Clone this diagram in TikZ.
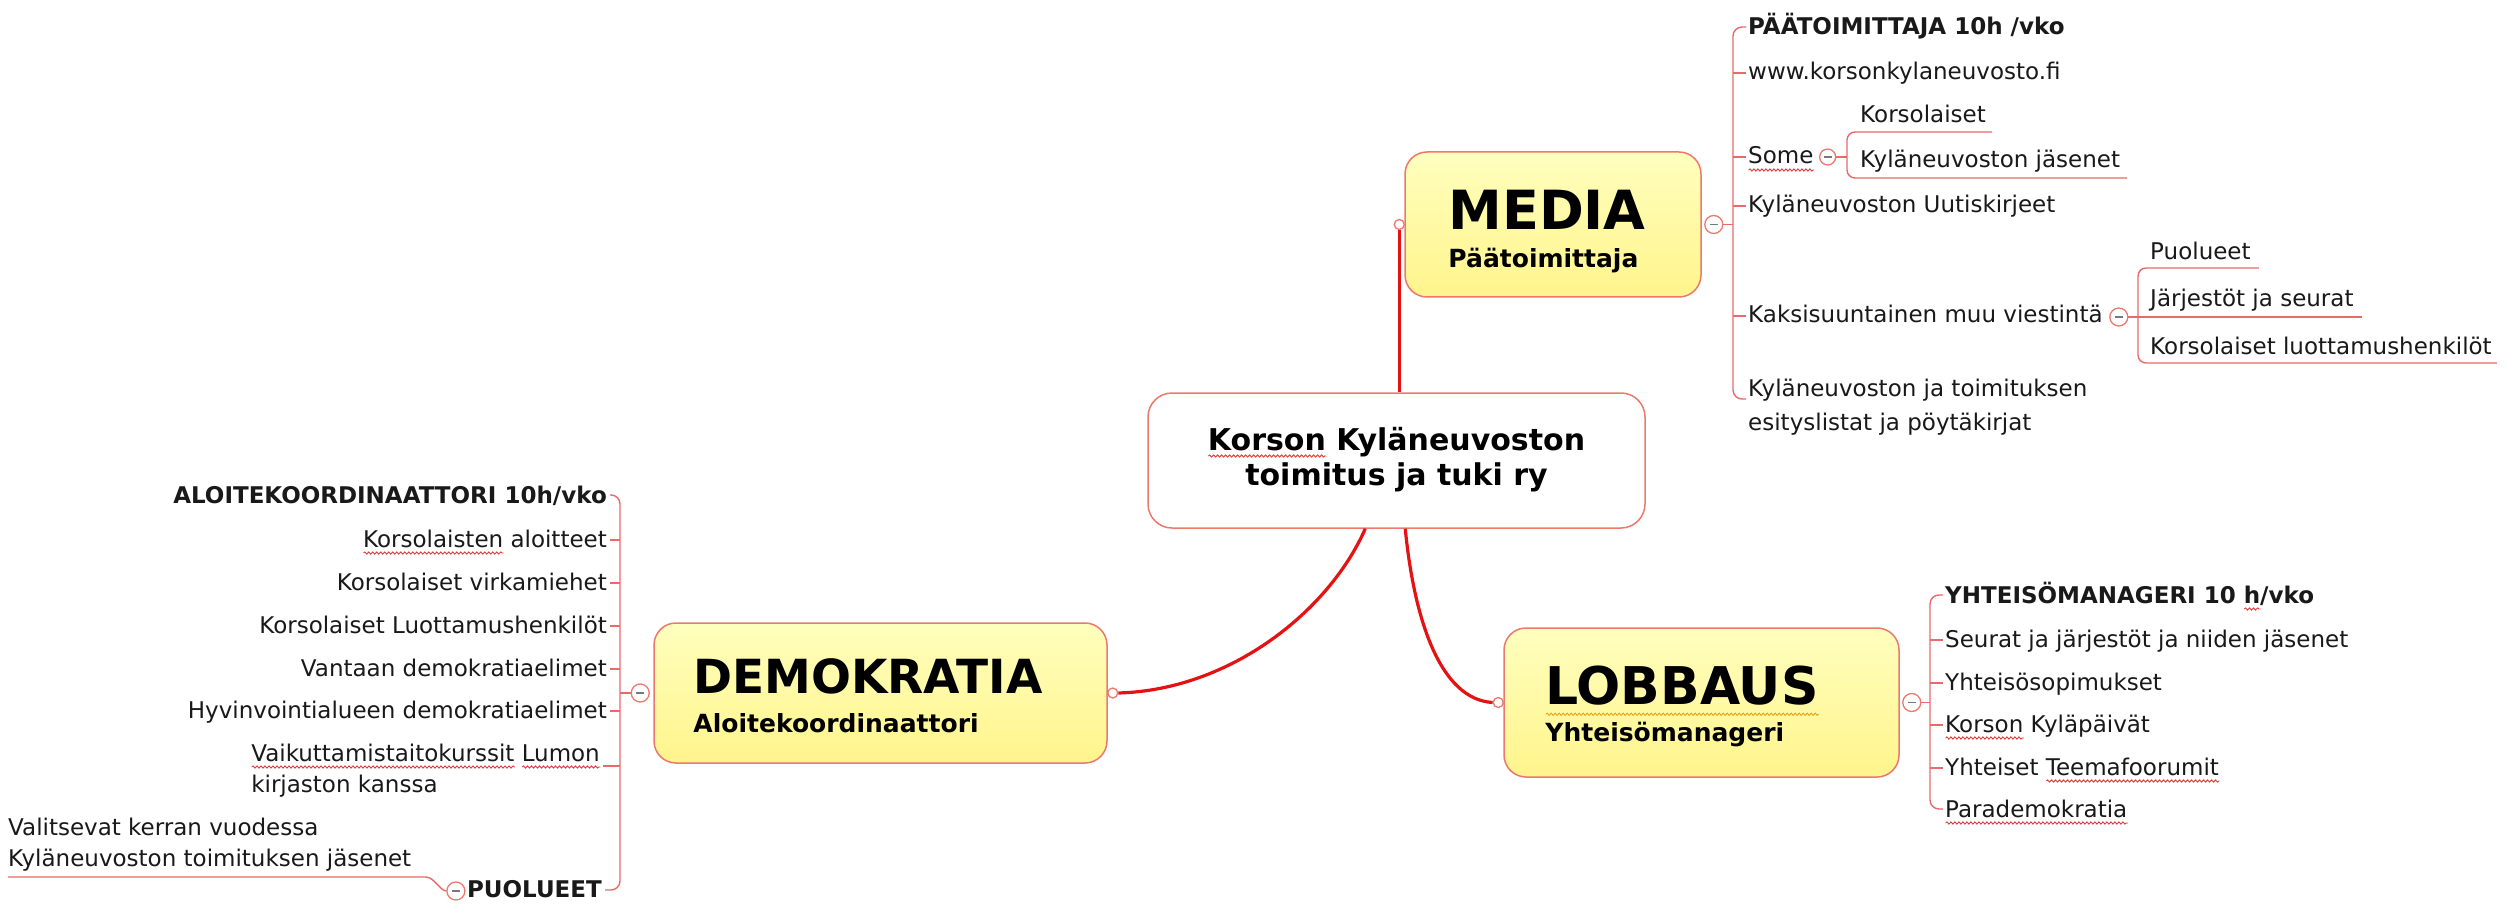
\documentclass[tikz,border=0pt]{standalone}
\usepackage{fontspec}
\setmainfont{DejaVu Sans}
\usetikzlibrary{calc,decorations.pathmorphing}
\definecolor{mainred}{RGB}{228,18,18}
\definecolor{thinred}{RGB}{236,105,105}
\definecolor{boxborder}{RGB}{236,120,110}
\definecolor{yelltop}{RGB}{255,255,190}
\definecolor{yellbot}{RGB}{255,244,140}
\definecolor{spellred}{RGB}{225,60,60}
\definecolor{grammar}{RGB}{230,165,30}
\definecolor{txt}{RGB}{25,25,25}
\definecolor{minusgray}{RGB}{120,120,120}
\newdimen\wavew
\newcommand{\wavyline}[3]{\leavevmode\setbox0\hbox{#3}\wavew=\wd0\relax
  \rlap{\smash{\tikz[baseline=0pt]\draw[#1, sharp corners, line width=0.9pt, decorate,
     decoration={snake, amplitude=1.1pt, segment length=4pt}] (0pt,-#2) -- (\wavew,-#2);}}\box0\relax}
\newcommand{\spl}[1]{\wavyline{spellred}{6pt}{#1}}
\newcommand{\grm}[1]{\wavyline{grammar}{10pt}{#1}}
\begin{document}
\begin{tikzpicture}[x=1pt,y=-1pt,
  every node/.style={inner sep=0pt, text=txt},
  item/.style={font=\fontsize{23}{28}\selectfont},
  bitem/.style={font=\bfseries\fontsize{23}{28}\selectfont},
  ybox/.style={draw=boxborder, line width=1.5pt, rounded corners=22pt, top color=yelltop, bottom color=yellbot},
  centerbox/.style={draw=boxborder, line width=1.5pt, rounded corners=24pt, fill=white, font=\bfseries\fontsize{30}{35}\selectfont, text=black},
  title/.style={font=\bfseries\fontsize{54}{60}\selectfont, text=black},
  subtitle/.style={font=\bfseries\fontsize{25}{30}\selectfont, text=black},
  attach/.style={circle, draw=boxborder, fill=white, line width=1.3pt, minimum size=10pt},
  collapse/.style={circle, draw=boxborder, fill=white, line width=1.3pt, minimum size=18pt},
  mainline/.style={draw=mainred, line width=3.2pt},
  thinline/.style={draw=thinred, line width=1.4pt},
  minusline/.style={draw=minusgray, line width=1.3pt}
]
\fill[white] (0,0) rectangle (2509,909);
\useasboundingbox (0,0) rectangle (2509,909);

% ---------- main boxes ----------
\node[centerbox, minimum width=497pt, minimum height=135pt] (center) at (1396.5,460.5)
  {\begin{tabular}{@{}c@{}}\spl{Korson} Kyläneuvoston\\toimitus ja tuki ry\end{tabular}};

\node[ybox, minimum width=296pt, minimum height=145pt] (media) at (1553,224.5) {};
\node[title, anchor=base west] (mediaT) at ($(media.north west)+(44,78)$) {MEDIA};
\node[subtitle, anchor=base west] (mediaS) at ($(media.north west)+(44,116)$) {Päätoimittaja};

\node[ybox, minimum width=453pt, minimum height=140pt] (dem) at (880.5,693) {};
\node[title, font=\bfseries\fontsize{47}{52}\selectfont, anchor=base west] (demT) at ($(dem.north west)+(40,71)$) {DEMOKRATIA};
\node[subtitle, anchor=base west] (demS) at ($(dem.north west)+(40,110)$) {Aloitekoordinaattori};

\node[ybox, minimum width=395pt, minimum height=149pt] (lob) at (1701.5,702.5) {};
\node[title, font=\bfseries\fontsize{52}{58}\selectfont, anchor=base west] (lobT) at ($(lob.north west)+(42,77)$) {\grm{LOBBAUS}};
\node[subtitle, anchor=base west] (lobS) at ($(lob.north west)+(42,114)$) {Yhteisömanageri};

% ---------- MEDIA list ----------
\node[bitem, anchor=base west] (m1) at (1748,35) {PÄÄTOIMITTAJA 10h /vko};
\node[item, anchor=base west] (m2) at (1748,80) {www.korsonkylaneuvosto.fi};
\node[item, anchor=base west] (m3) at (1748,164) {\spl{Some}};
\node[item, anchor=base west] (m3a) at (1860,123) {Korsolaiset};
\node[item, anchor=base west] (m3b) at (1860,168) {Kyläneuvoston jäsenet};
\node[item, anchor=base west] (m4) at (1748,213) {Kyläneuvoston Uutiskirjeet};
\node[item, anchor=base west] (m5) at (1748,323) {Kaksisuuntainen muu viestintä};
\node[item, anchor=base west] (m5a) at (2150,260) {Puolueet};
\node[item, anchor=base west] (m5b) at (2150,307) {Järjestöt ja seurat};
\node[item, anchor=base west] (m5c) at (2150,355) {Korsolaiset luottamushenkilöt};
\node[item, font=\fontsize{23}{34}\selectfont, anchor=base west] (m6) at (1748,396)
  {\begin{tabular}[t]{@{}l@{}}Kyläneuvoston ja toimituksen\\esityslistat ja pöytäkirjat\end{tabular}};

% ---------- DEMOKRATIA list ----------
\node[bitem, anchor=base east] (d1) at (607,503) {ALOITEKOORDINAATTORI 10h/vko};
\node[item, anchor=base east] (d2) at (607,547) {\spl{Korsolaisten} aloitteet};
\node[item, anchor=base east] (d3) at (607,590) {Korsolaiset virkamiehet};
\node[item, anchor=base east] (d4) at (607,633) {Korsolaiset Luottamushenkilöt};
\node[item, anchor=base east] (d5) at (607,676) {Vantaan demokratiaelimet};
\node[item, anchor=base east] (d6) at (607,718) {Hyvinvointialueen demokratiaelimet};
\node[item, font=\fontsize{23}{31}\selectfont, anchor=base east] (d7) at (600,761)
  {\begin{tabular}[t]{@{}l@{}}\spl{Vaikuttamistaitokurssit} \spl{Lumon}\\kirjaston kanssa\end{tabular}};
\node[bitem, anchor=base east] (d8) at (602,897) {PUOLUEET};
\node[item, font=\fontsize{23}{31}\selectfont, anchor=base west] (d8a) at (8,835)
  {\begin{tabular}[t]{@{}l@{}}Valitsevat kerran vuodessa\\Kyläneuvoston toimituksen jäsenet\end{tabular}};

% ---------- LOBBAUS list ----------
\node[bitem, anchor=base west] (l1) at (1945,603) {YHTEISÖMANAGERI 10 \spl{h}/vko};
\node[item, anchor=base west] (l2) at (1945,647) {Seurat ja järjestöt ja niiden jäsenet};
\node[item, anchor=base west] (l3) at (1945,690) {Yhteisösopimukset};
\node[item, anchor=base west] (l4) at (1945,732) {\spl{Korson} Kyläpäivät};
\node[item, anchor=base west] (l5) at (1945,775) {Yhteiset \spl{Teemafoorumit}};
\node[item, anchor=base west] (l6) at (1945,817) {\spl{Parademokratia}};

% ---------- circles ----------
\node[attach] (mediaL) at ($(media.west)+(-5,0)$) {};
\node[collapse] (mediaC) at ($(media.east)+(12,0)$) {};
\node[attach] (demR) at ($(dem.east)+(5,0)$) {};
\node[collapse] (demC) at ($(dem.west)+(-13,0)$) {};
\node[attach] (lobL) at ($(lob.west)+(-5,0)$) {};
\node[collapse] (lobC) at ($(lob.east)+(12,0)$) {};
\node[collapse, minimum size=16pt] (someC) at ($(m3.base east)+(14,-7)$) {};
\node[collapse] (kakC) at ($(m5.base east)+(16,-6)$) {};
\node[collapse] (puoC) at ($(d8.base west)+(-11,-6)$) {};
\foreach \c in {mediaC,demC,lobC,someC,kakC,puoC}
  \draw[minusline] ($(\c.center)+(-4,0)$) -- ($(\c.center)+(4,0)$);

% ---------- main connectors ----------
\coordinate (cDem) at ($(center.south west)+(218,0)$);
\coordinate (cLob) at ($(center.south west)+(258,0)$);
\draw[mainline] (center.north -| mediaL) -- (mediaL.south);
\draw[mainline] (cDem) .. controls ($(cDem)+(-36,82)$) and ($(demR.east)+(112,-3)$) .. (demR.east);
\draw[mainline] (cLob) .. controls ($(cLob)+(9,92)$) and ($(lobL.west)+(-52,-3)$) .. (lobL.west);

% ---------- bracket coordinates ----------
\coordinate (mbr) at (1733,225);
\coordinate (dbr) at (620,693);
\coordinate (lbr) at (1930,702);
\coordinate (sbr) at (1847,157);
\coordinate (kbr) at (2138,317);

% MEDIA bracket
\draw[thinline] (mediaC.east) -- (mediaC.east -| mbr);
\draw[thinline, rounded corners=9pt] ($(m1.base west)+(-2,-8)$) -- ($(m1.base west -| mbr)+(0,-8)$)
  -- ($(m6.base west -| mbr)+(0,3)$) -- ($(m6.base west)+(-2,3)$);
\foreach \n in {m2,m3,m4,m5}
  \draw[thinline] ($(\n.base west -| mbr)+(0,-7)$) -- ($(\n.base west)+(-2,-7)$);

% Some sub-bracket
\draw[thinline] (someC.east) -- (someC.east -| sbr);
\draw[thinline, rounded corners=8pt] ($(m3a.base east)+(6,9)$) -- ($(m3a.base west -| sbr)+(0,9)$)
  -- ($(m3b.base west -| sbr)+(0,10)$) -- ($(m3b.base east)+(7,10)$);

% Kaksisuuntainen sub-bracket
\draw[thinline] (kakC.east) -- ($(kakC.east -| m5b.base east)+(8,0)$);
\draw[thinline, rounded corners=8pt] ($(m5a.base east)+(8,8)$) -- ($(m5a.base west -| kbr)+(0,8)$)
  -- ($(m5c.base west -| kbr)+(0,8)$) -- ($(m5c.base east)+(5,8)$);

% DEMOKRATIA bracket
\draw[thinline] (demC.west) -- (demC.west -| dbr);
\draw[thinline, rounded corners=9pt] ($(d1.base east)+(3,-8)$) -- ($(d1.base east -| dbr)+(0,-8)$)
  -- ($(d8.base east -| dbr)+(0,-7)$) -- ($(d8.base east)+(3,-7)$);
\foreach \n in {d2,d3,d4,d5,d6}
  \draw[thinline] ($(\n.base east -| dbr)+(0,-7)$) -- ($(\n.base east)+(3,-7)$);
\draw[thinline] ($(d7.base east -| dbr)+(0,5)$) -- ($(d7.base east)+(3,5)$);

% PUOLUEET child
\draw[thinline] ($(d8a.base west)+(0,42)$) -- ($(d8a.base east)+(14,42)$)
  .. controls +(9,0) and +(-6,0) .. (puoC.west);

% LOBBAUS bracket
\draw[thinline] (lobC.east) -- (lobC.east -| lbr);
\draw[thinline, rounded corners=9pt] ($(l1.base west)+(-2,-8)$) -- ($(l1.base west -| lbr)+(0,-8)$)
  -- ($(l6.base west -| lbr)+(0,-8)$) -- ($(l6.base west)+(-2,-8)$);
\foreach \n in {l2,l3,l4,l5}
  \draw[thinline] ($(\n.base west -| lbr)+(0,-7)$) -- ($(\n.base west)+(-2,-7)$);
\end{tikzpicture}
\end{document}
